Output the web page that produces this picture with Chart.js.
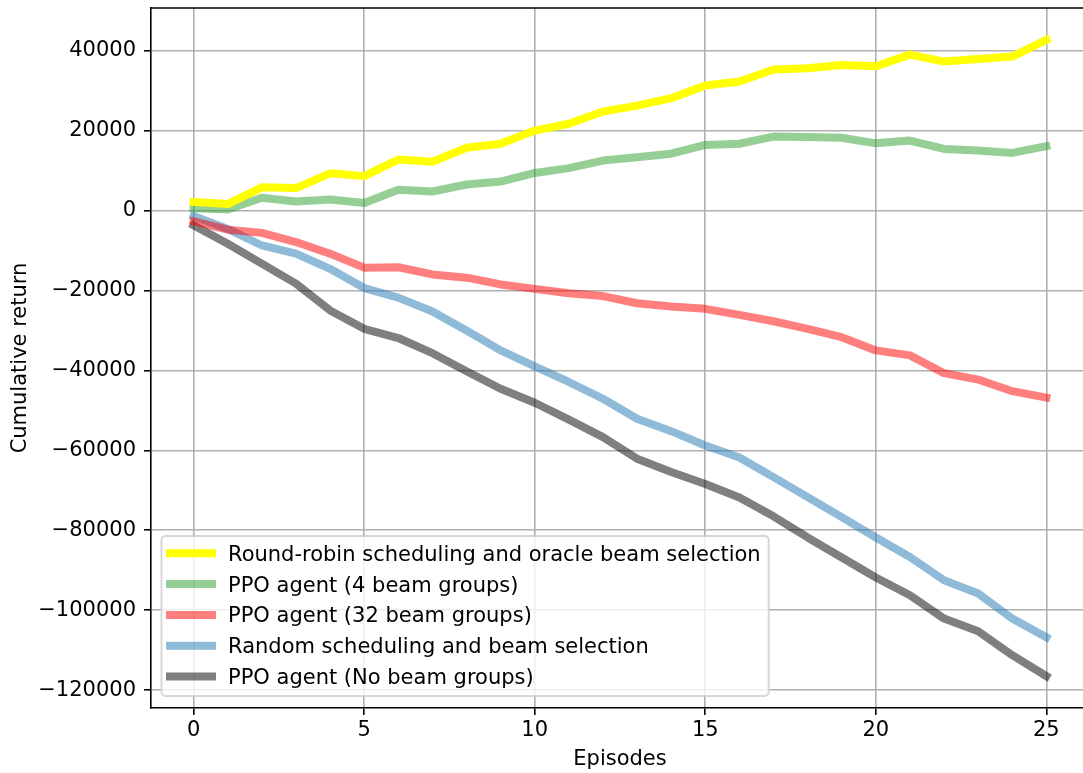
<!DOCTYPE html>
<html>
<head>
<meta charset="utf-8">
<script src="https://cdn.jsdelivr.net/npm/chart.js@4.4.1/dist/chart.umd.min.js"></script>
<style>
  html, body { margin: 0; padding: 0; background: #ffffff; overflow: hidden; }
  #wrap { width: 1095px; height: 773px; }
</style>
</head>
<body>
<div id="wrap"><canvas id="c" width="1095" height="773"></canvas></div>
<script>
// ---- data ----
const episodes = [0,1,2,3,4,5,6,7,8,9,10,11,12,13,14,15,16,17,18,19,20,21,22,23,24,25];

const roundRobin = [2100, 1600, 5800, 5600, 9300, 8600, 12750, 12200, 15700, 16700, 20000, 21700, 24750, 26250, 28100, 31250, 32250, 35250, 35600, 36400, 36100, 39000, 37250, 37900, 38500, 42700];
const ppo4 = [600, 250, 3200, 2250, 2750, 1900, 5200, 4750, 6500, 7250, 9400, 10600, 12500, 13300, 14200, 16400, 16700, 18500, 18400, 18200, 16800, 17500, 15400, 15000, 14400, 16100];
const ppo32 = [-2700, -4800, -5600, -7900, -10800, -14300, -14200, -16000, -16800, -18500, -19600, -20700, -21400, -23200, -24000, -24600, -26100, -27700, -29600, -31700, -35000, -36250, -40700, -42300, -45200, -46800];
const randomSched = [-1400, -4600, -8750, -10800, -14600, -19400, -21800, -25250, -30000, -35000, -39000, -42900, -47100, -52100, -55200, -58800, -61800, -66700, -71700, -76700, -81800, -86700, -92500, -95800, -102100, -106800];
const ppoNoBeam = [-3700, -8300, -13300, -18300, -25000, -29600, -31900, -35700, -40200, -44600, -48100, -52300, -56700, -62100, -65400, -68400, -71800, -76500, -81800, -86800, -91800, -96250, -102100, -105250, -111250, -116500];

const seriesLabels = [
  'Round-robin scheduling and oracle beam selection',
  'PPO agent (4 beam groups)',
  'PPO agent (32 beam groups)',
  'Random scheduling and beam selection',
  'PPO agent (No beam groups)'
];
const xTicks = [0, 5, 10, 15, 20, 25];
const yTicks = [-120000, -100000, -80000, -60000, -40000, -20000, 0, 20000, 40000];

// ---- styles ----
const FONT = '"DejaVu Sans", sans-serif';
const FS = 21;
const colors = ['rgba(255,255,0,1)', 'rgba(44,160,44,0.5)', 'rgba(255,0,0,0.5)', 'rgba(31,119,180,0.5)', 'rgba(0,0,0,0.5)'];
const allSeries = [roundRobin, ppo4, ppo32, randomSched, ppoNoBeam];

// matplotlib-like autoscale with 5% margins
const allVals = allSeries.flat();
const dMin = Math.min(...allVals), dMax = Math.max(...allVals);
const yMargin = (dMax - dMin) * 0.05;
const xMin = Math.min(...episodes), xMax = Math.max(...episodes);
const xMargin = (xMax - xMin) * 0.05;

const datasets = allSeries.map((s, i) => ({
  label: seriesLabels[i],
  data: s.map((v, j) => ({ x: episodes[j], y: v })),
  borderColor: colors[i],
  backgroundColor: colors[i],
  borderWidth: 8,
  borderJoinStyle: 'round',
  borderCapStyle: 'square',
  pointRadius: 0,
  fill: false,
  tension: 0
}));

const fmt = v => (v < 0 ? '\u2212' : '') + Math.abs(Math.round(v));

const frame = {
  id: 'frame',
  afterDraw(chart) {
    const { ctx, chartArea: a } = chart;
    ctx.save();
    ctx.strokeStyle = '#000';
    ctx.lineWidth = 1.6;
    ctx.beginPath();
    ctx.moveTo(a.left, a.top);
    ctx.lineTo(a.right, a.top);
    ctx.lineTo(a.right, a.bottom);
    ctx.stroke();

    // legend (lower left, inside axes)
    ctx.font = FS + 'px ' + FONT;
    const bx = 161.5, by = 536, rowH = 30.8, firstRow = 553.3;
    const textX = 228;
    let maxW = 0;
    chart.data.datasets.forEach(d => { maxW = Math.max(maxW, ctx.measureText(d.label).width); });
    const bw = textX + maxW + 8 - bx;
    const bh = 160;
    const r = 4;
    ctx.beginPath();
    ctx.moveTo(bx + r, by);
    ctx.lineTo(bx + bw - r, by);
    ctx.arcTo(bx + bw, by, bx + bw, by + r, r);
    ctx.lineTo(bx + bw, by + bh - r);
    ctx.arcTo(bx + bw, by + bh, bx + bw - r, by + bh, r);
    ctx.lineTo(bx + r, by + bh);
    ctx.arcTo(bx, by + bh, bx, by + bh - r, r);
    ctx.lineTo(bx, by + r);
    ctx.arcTo(bx, by, bx + r, by, r);
    ctx.closePath();
    ctx.fillStyle = 'rgba(255,255,255,0.8)';
    ctx.fill();
    ctx.strokeStyle = 'rgba(204,204,204,0.8)';
    ctx.lineWidth = 2;
    ctx.stroke();

    chart.data.datasets.forEach((d, i) => {
      const cy = firstRow + i * rowH;
      ctx.strokeStyle = d.borderColor;
      ctx.lineWidth = 8;
      ctx.lineCap = 'butt';
      ctx.beginPath();
      ctx.moveTo(166, cy);
      ctx.lineTo(216, cy);
      ctx.stroke();
      ctx.fillStyle = '#000';
      ctx.textAlign = 'left';
      ctx.textBaseline = 'alphabetic';
      ctx.fillText(d.label, textX, cy + 7.5);
    });
    ctx.restore();
  }
};

new Chart(document.getElementById('c'), {
  type: 'line',
  data: { datasets },
  plugins: [frame],
  options: {
    responsive: false,
    animation: false,
    devicePixelRatio: 1,
    layout: { padding: { left: 0, top: 8, right: 6, bottom: 0 } },
    plugins: { legend: { display: false }, tooltip: { enabled: false } },
    scales: {
      x: {
        type: 'linear',
        min: xMin - xMargin,
        max: xMax + xMargin,
        afterFit: s => { s.height = 65; s.paddingLeft = 0; s.paddingRight = 0; },
        afterBuildTicks: s => { s.ticks = xTicks.map(v => ({ value: v })); },
        ticks: {
          color: '#000',
          font: { family: FONT, size: FS },
          padding: 3,
          maxRotation: 0,
          autoSkip: false,
          callback: v => fmt(v)
        },
        grid: { color: '#b0b0b0', lineWidth: 1.6, tickLength: 7, tickColor: '#000', tickWidth: 1.6 },
        border: { display: true, color: '#000', width: 1.6 },
        title: { display: true, text: 'Episodes', color: '#000', font: { family: FONT, size: FS }, padding: { top: 0, bottom: 1 } }
      },
      y: {
        type: 'linear',
        min: dMin - yMargin,
        max: dMax + yMargin,
        afterFit: s => { s.width = 151; s.paddingTop = 0; s.paddingBottom = 0; },
        afterBuildTicks: s => { s.ticks = yTicks.map(v => ({ value: v })); },
        ticks: {
          color: '#000',
          font: { family: FONT, size: FS },
          padding: 8,
          autoSkip: false,
          callback: v => fmt(v)
        },
        grid: { color: '#b0b0b0', lineWidth: 1.6, tickLength: 7, tickColor: '#000', tickWidth: 1.6 },
        border: { display: true, color: '#000', width: 1.6 },
        title: { display: true, text: 'Cumulative return', color: '#000', font: { family: FONT, size: FS }, padding: { top: 8, bottom: 0 } }
      }
    }
  }
});
</script>
</body>
</html>
